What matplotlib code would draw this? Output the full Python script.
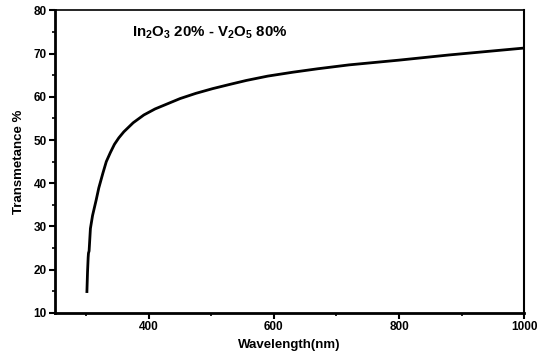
import matplotlib
matplotlib.use("Agg")
import matplotlib.pyplot as plt
from matplotlib.ticker import MultipleLocator

# transmittance spectrum of the In2O3 / V2O5 film
wavelength = [301, 302, 303, 303.5, 304.5, 306.6, 310, 315.8, 320, 326.5, 332,
              338.5, 345, 352, 360, 375, 392, 410, 425, 450, 475, 502, 530,
              556, 590, 630, 670, 720, 800, 880, 940, 1000]
transmittance = [14.9, 19.5, 22.8, 23.8, 24.3, 29.5, 32.5, 36.1, 38.9, 42.3, 45.0,
                 47.1, 49.0, 50.5, 51.9, 54.0, 55.8, 57.2, 58.1, 59.6, 60.8, 61.9, 62.9,
                 63.8, 64.8, 65.7, 66.5, 67.4, 68.5, 69.7, 70.5, 71.3]

plt.rcParams['font.family'] = ['Liberation Sans', 'DejaVu Sans']
plt.rcParams['font.weight'] = 'bold'
plt.rcParams['mathtext.fontset'] = 'custom'
plt.rcParams['mathtext.rm'] = 'Liberation Sans:bold'
plt.rcParams['mathtext.default'] = 'rm'

fig = plt.figure(figsize=(5.42, 3.58), dpi=100)
ax = fig.add_axes([0.1015, 0.1265, 0.8655, 0.8442])

ax.plot(wavelength, transmittance, color='black', linewidth=2.0)

ax.set_xlim(250, 1000)
ax.set_ylim(10, 80)
ax.xaxis.set_major_locator(MultipleLocator(200))
ax.xaxis.set_minor_locator(MultipleLocator(100))
ax.yaxis.set_major_locator(MultipleLocator(10))
ax.yaxis.set_minor_locator(MultipleLocator(5))
ax.set_xticks([400, 600, 800, 1000])

ax.tick_params(which='major', direction='out', length=4, width=1.5, labelsize=8.5, pad=2)
ax.tick_params(which='minor', direction='out', length=2.5, width=1.2)
for lab in ax.get_xticklabels() + ax.get_yticklabels():
    lab.set_fontweight('bold')

ax.spines['left'].set_linewidth(2.0)
ax.spines['bottom'].set_linewidth(2.0)
ax.spines['top'].set_linewidth(1.2)
ax.spines['right'].set_linewidth(1.5)

ax.set_xlabel('Wavelength(nm)', fontsize=9.5, fontweight='bold', labelpad=4)
ax.set_ylabel('Transmetance %', fontsize=9.5, fontweight='bold', labelpad=6)

ax.text(0.165, 0.925, r'In$_2$O$_3$ 20% - V$_2$O$_5$ 80%', transform=ax.transAxes,
        fontsize=10.8, fontweight='bold', va='center', ha='left')

fig.savefig('out.png', dpi=100)
